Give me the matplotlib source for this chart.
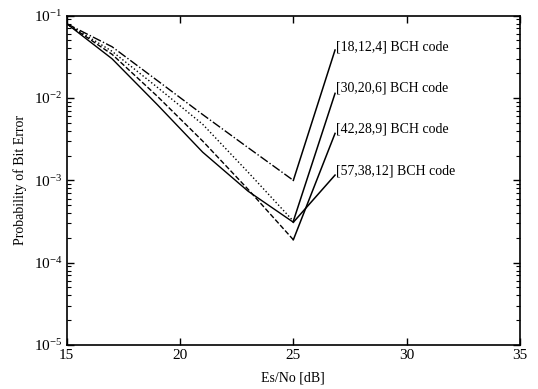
import matplotlib
matplotlib.use('Agg')
import matplotlib.pyplot as plt
from matplotlib.ticker import LogLocator, NullFormatter, FixedLocator

plt.rcParams['font.family'] = ['Liberation Serif', 'DejaVu Serif']
plt.rcParams['mathtext.fontset'] = 'stix'

# Es/No points (dB) and bit error probability per code
esno = [15, 17, 19, 21, 23, 25]
ber_18 = [0.08, 0.042, 0.0163, 0.0063, 0.0025, 0.001]
ber_30 = [0.08, 0.037, 0.0135, 0.0048, 0.00126, 0.00032]
ber_42 = [0.08, 0.034, 0.0105, 0.003, 0.00078, 0.00019]
ber_57 = [0.08, 0.030, 0.0083, 0.0022, 0.00074, 0.00031]

codes = ['[18,12,4] BCH code', '[30,20,6] BCH code',
         '[42,28,9] BCH code', '[57,38,12] BCH code']
styles = ['-.', ':', '--', '-']

# label leader ends / label positions
lead_x = 26.84
lead_y = [0.0383, 0.0114, 0.00372, 0.00116]
text_y = [0.042, 0.0131, 0.00417, 0.0013]

fig = plt.figure(figsize=(5.38, 3.89), dpi=100)
ax = fig.add_axes([0.124, 0.113, 0.8425, 0.8466])

series = [ber_18, ber_30, ber_42, ber_57]
for ber, ls, name, ly, ty in zip(series, styles, codes, lead_y, text_y):
    ax.plot(esno, ber, ls, color='black', lw=1.0)
    ax.plot([esno[-1], lead_x], [ber[-1], ly], '-', color='black', lw=1.1)
    ax.text(lead_x + 0.03, ty, name, ha='left', va='center', fontsize=10)

ax.set_yscale('log')
ax.set_xlim(15, 35)
ax.set_ylim(1e-5, 1e-1)
ax.xaxis.set_major_locator(FixedLocator([15, 20, 25, 30, 35]))
ax.yaxis.set_major_locator(LogLocator(base=10, numticks=10))
ax.yaxis.set_minor_locator(LogLocator(base=10, subs=range(2, 10), numticks=20))
ax.yaxis.set_minor_formatter(NullFormatter())

ax.tick_params(which='both', direction='in', top=True, right=True, labelsize=11)
ax.tick_params(which='major', length=5, width=1, pad=3)
ax.tick_params(which='minor', length=3, width=0.8)
for s in ax.spines.values():
    s.set_linewidth(1.2)

ax.set_xlabel('Es/No [dB]', fontsize=10, labelpad=7)
ax.set_ylabel('Probability of Bit Error', fontsize=10, labelpad=5)

fig.savefig('out.png', dpi=100)
